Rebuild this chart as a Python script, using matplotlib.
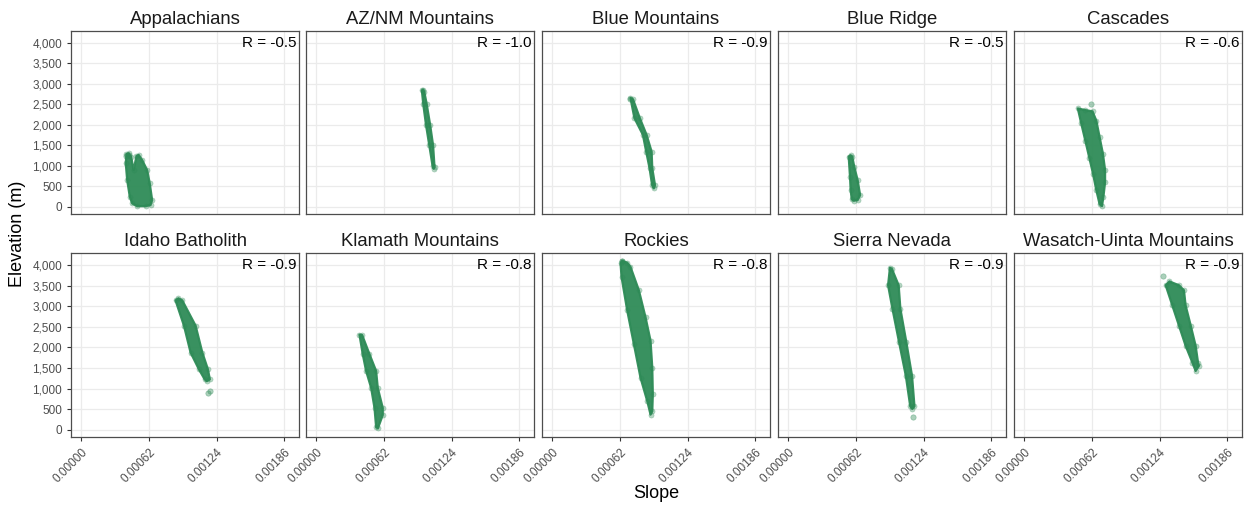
import matplotlib
matplotlib.use("Agg")
import matplotlib.pyplot as plt
from matplotlib.ticker import FuncFormatter

plt.rcParams['font.family'] = ['Liberation Sans', 'DejaVu Sans']

regions = ["Appalachians", "AZ/NM Mountains", "Blue Mountains", "Blue Ridge", "Cascades",
           "Idaho Batholith", "Klamath Mountains", "Rockies", "Sierra Nevada", "Wasatch-Uinta Mountains"]
r_values = [-0.5, -1.0, -0.9, -0.5, -0.6, -0.9, -0.8, -0.8, -0.9, -0.9]

# Outlines of each point cloud (slope, elevation in m)
appalachians_slope = [0.000413, 0.000407, 0.000420, 0.000444, 0.000466, 0.000511, 0.000588, 0.000634, 0.000649,
                      0.000627, 0.000603, 0.000557, 0.000526, 0.000505, 0.000480, 0.000456, 0.000434]
appalachians_elev = [1290, 1062, 654, 245, 83, 15, 15, 42, 164, 572, 898, 1143, 1265, 1241, 898, 1224, 1307]

aznm_slope = [0.000967, 0.000980, 0.001005, 0.001035, 0.001065, 0.001075, 0.001083, 0.001070, 0.001043,
              0.001012, 0.000990, 0.000978]
aznm_elev = [2840, 2500, 2000, 1500, 1000, 930, 980, 1500, 2000, 2500, 2800, 2860]

bluemtn_slope = [0.000716, 0.000752, 0.000830, 0.000860, 0.000891, 0.000914, 0.000930, 0.000941, 0.000916,
                 0.000910, 0.000864, 0.000802, 0.000740]
bluemtn_elev = [2654, 2164, 1755, 1346, 940, 531, 450, 531, 940, 1346, 1755, 2164, 2620]

blueridge_slope = [0.000553, 0.000565, 0.000571, 0.000581, 0.000600, 0.000635, 0.000658, 0.000635, 0.000604,
                   0.000586, 0.000570]
blueridge_elev = [1224, 734, 409, 181, 150, 164, 286, 653, 979, 1224, 1260]

cascades_slope = [0.000490, 0.000520, 0.000560, 0.000595, 0.000630, 0.000660, 0.000690, 0.000712,
                  0.000725, 0.000740, 0.000740, 0.000720, 0.000690, 0.000660, 0.000625, 0.000560]
cascades_elev = [2400, 2050, 1600, 1200, 800, 400, 60, 20, 250, 600, 900, 1300, 1700, 2100, 2330, 2360]

idaho_slope = [0.000863, 0.000940, 0.001001, 0.001077, 0.001130, 0.001150, 0.001178, 0.001160, 0.001109,
               0.001047, 0.000925, 0.000890]
idaho_elev = [3141, 2529, 1875, 1469, 1224, 1180, 1224, 1469, 1875, 2529, 3141, 3190]

klamath_slope = [0.000395, 0.000425, 0.000456, 0.000502, 0.000533, 0.000548, 0.000565, 0.000609, 0.000609,
                 0.000563, 0.000548, 0.000487, 0.000420]
klamath_elev = [2309, 1836, 1427, 1018, 529, 60, 40, 360, 529, 1018, 1427, 1836, 2300]

rockies_slope = [0.000625, 0.000634, 0.000686, 0.000747, 0.000808, 0.000870, 0.000900, 0.000916, 0.000921,
                 0.000916, 0.000900, 0.000854, 0.000793, 0.000716, 0.000686, 0.000640]
rockies_elev = [4039, 3711, 2896, 2081, 1263, 693, 367, 448, 857, 1508, 2162, 2732, 3386, 3956, 4055, 4103]

sierra_slope = [0.000931, 0.000914, 0.000954, 0.001015, 0.001077, 0.001117, 0.001136, 0.001156, 0.001134,
                0.001082, 0.001027, 0.001011, 0.000950]
sierra_elev = [3932, 3508, 2937, 2120, 1305, 571, 505, 571, 1305, 2120, 2937, 3508, 3900]

wasatch_slope = [0.001295, 0.001356, 0.001417, 0.001478, 0.001540, 0.001570, 0.001600, 0.001592, 0.001570,
                 0.001525, 0.001478, 0.001463, 0.001417, 0.001330]
wasatch_elev = [3508, 3019, 2529, 2039, 1630, 1427, 1550, 1630, 2039, 2529, 3019, 3386, 3508, 3600]

# isolated, lighter points
outlier_slope = {"Appalachians": [0.000413, 0.000434], "Blue Mountains": [0.000716],
                 "Cascades": [0.000612], "Idaho Batholith": [0.001160, 0.001178],
                 "Rockies": [0.000640], "Sierra Nevada": [0.001145],
                 "Wasatch-Uinta Mountains": [0.001270]}
outlier_elev = {"Appalachians": [1250, 1270], "Blue Mountains": [2640],
                "Cascades": [2514], "Idaho Batholith": [896, 938],
                "Rockies": [4090], "Sierra Nevada": [301],
                "Wasatch-Uinta Mountains": [3728]}

clouds = [(appalachians_slope, appalachians_elev), (aznm_slope, aznm_elev), (bluemtn_slope, bluemtn_elev),
          (blueridge_slope, blueridge_elev), (cascades_slope, cascades_elev), (idaho_slope, idaho_elev),
          (klamath_slope, klamath_elev), (rockies_slope, rockies_elev), (sierra_slope, sierra_elev),
          (wasatch_slope, wasatch_elev)]

x_ticks = [0.0, 0.00062, 0.00124, 0.00186]
y_ticks = [0, 500, 1000, 1500, 2000, 2500, 3000, 3500, 4000]

green = '#2E8B57'
W, H = 1247, 508
fig = plt.figure(figsize=(W / 100, H / 100), dpi=100)

lefts = [71, 306, 542, 778, 1014]
pw = 228
rows = [(31, 214), (253, 437)]

for i, name in enumerate(regions):
    r, c = divmod(i, 5)
    top, bot = rows[r]
    ax = fig.add_axes([lefts[c] / W, 1 - bot / H, pw / W, (bot - top) / H])
    ax.set_xlim(-0.0000948, 0.0019948)
    ax.set_ylim(-175, 4290)
    ax.set_xticks(x_ticks)
    ax.set_yticks(y_ticks)
    ax.grid(True, color='#EBEBEB', lw=0.9)
    ax.set_axisbelow(True)
    for s in ax.spines.values():
        s.set_color('#4D4D4D')
        s.set_linewidth(0.9)
    ax.tick_params(colors='#333333', length=3, width=0.8, labelsize=8.5, labelcolor='#4D4D4D')
    sl, el = clouds[i]
    ax.fill(sl, el, facecolor=green, edgecolor=green, alpha=0.95, lw=1.6, joinstyle='round', zorder=2)
    ax.scatter(sl, el, s=14, color=green, alpha=0.35, lw=0.4, zorder=3)
    if name in outlier_slope:
        ax.scatter(outlier_slope[name], outlier_elev[name], s=15, color=green, alpha=0.4, lw=0.5, zorder=3)
    ax.text(0.987, 0.934, f"R = {r_values[i]:.1f}", transform=ax.transAxes, ha='right', va='center',
            fontsize=11, color='black')
    ax.set_title(name, fontsize=13.3, color='#1A1A1A', pad=5)
    if c == 0:
        ax.yaxis.set_major_formatter(FuncFormatter(lambda v, p: f"{int(v):,}"))
    else:
        ax.tick_params(axis='y', left=False, labelleft=False)
    if r == 1:
        ax.xaxis.set_major_formatter(FuncFormatter(lambda v, p: f"{v:.5f}"))
        for lab in ax.get_xticklabels():
            lab.set_rotation(45)
            lab.set_ha('right')
            lab.set_rotation_mode('anchor')
    else:
        ax.tick_params(axis='x', bottom=False, labelbottom=False)

fig.text(18 / W, 1 - 234 / H, "Elevation (m)", rotation=90, ha='center', va='center', fontsize=13)
fig.text(656 / W, 1 - 494 / H, "Slope", ha='center', va='center', fontsize=13)

fig.savefig("out.png", dpi=100)
